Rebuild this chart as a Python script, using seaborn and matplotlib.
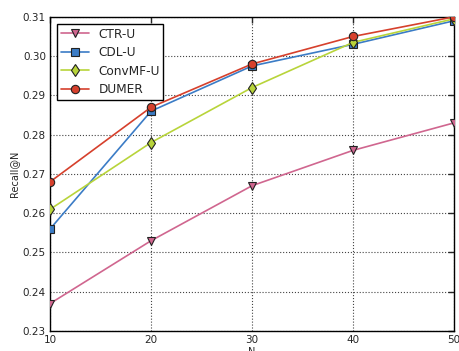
import matplotlib
matplotlib.use("Agg")
import matplotlib.pyplot as plt
import seaborn as sns
import pandas as pd

N = [10, 20, 30, 40, 50]
ctr_u = [0.237, 0.253, 0.267, 0.276, 0.283]
cdl_u = [0.256, 0.286, 0.2975, 0.303, 0.309]
convmf_u = [0.261, 0.278, 0.292, 0.3035, 0.3095]
dumer = [0.268, 0.287, 0.298, 0.305, 0.310]

series = {"CTR-U": ctr_u, "CDL-U": cdl_u, "ConvMF-U": convmf_u, "DUMER": dumer}
markers = {"CTR-U": "v", "CDL-U": "s", "ConvMF-U": "d", "DUMER": "o"}
colors = {"CTR-U": "#d0668f", "CDL-U": "#3b7cc6", "ConvMF-U": "#b8d43a", "DUMER": "#d6402c"}

sns.set_style("white")
plt.rcParams["font.family"] = ["DejaVu Sans"]

fig = plt.figure(figsize=(4.6, 3.51), dpi=100)
ax = fig.add_axes([0.109, 0.057, 0.878, 0.895])

for name, vals in series.items():
    df = pd.DataFrame({"N": N, "Recall": vals})
    sns.lineplot(data=df, x="N", y="Recall", ax=ax, label=name, color=colors[name],
                 marker=markers[name], markersize=6, markeredgecolor="#222222",
                 markeredgewidth=0.8, linewidth=1.2, zorder=3)

ax.set_xlim(10, 50)
ax.set_ylim(0.23, 0.31)
ax.set_xticks([10, 20, 30, 40, 50])
ax.set_yticks([0.23, 0.24, 0.25, 0.26, 0.27, 0.28, 0.29, 0.30, 0.31])
ax.set_yticklabels(["0.23", "0.24", "0.25", "0.26", "0.27", "0.28", "0.29", "0.30", "0.31"])
ax.grid(True, color="#444444", linestyle=":", linewidth=0.8)
ax.tick_params(direction="in", top=True, right=True, length=4, width=1, labelsize=7.5, pad=3)
for s in ax.spines.values():
    s.set_color("black")
    s.set_linewidth(1.0)
ax.set_xlabel("N", fontsize=7, labelpad=1)
ax.set_ylabel("Recall@N", fontsize=7, labelpad=3)

leg = ax.legend(loc="upper left", fontsize=8.7, fancybox=False, framealpha=1,
                edgecolor="black", borderpad=0.3, handlelength=2.3, handletextpad=0.8,
                labelspacing=0.45, borderaxespad=0.6)
leg.get_frame().set_linewidth(1)

fig.savefig("out.png", dpi=100)
